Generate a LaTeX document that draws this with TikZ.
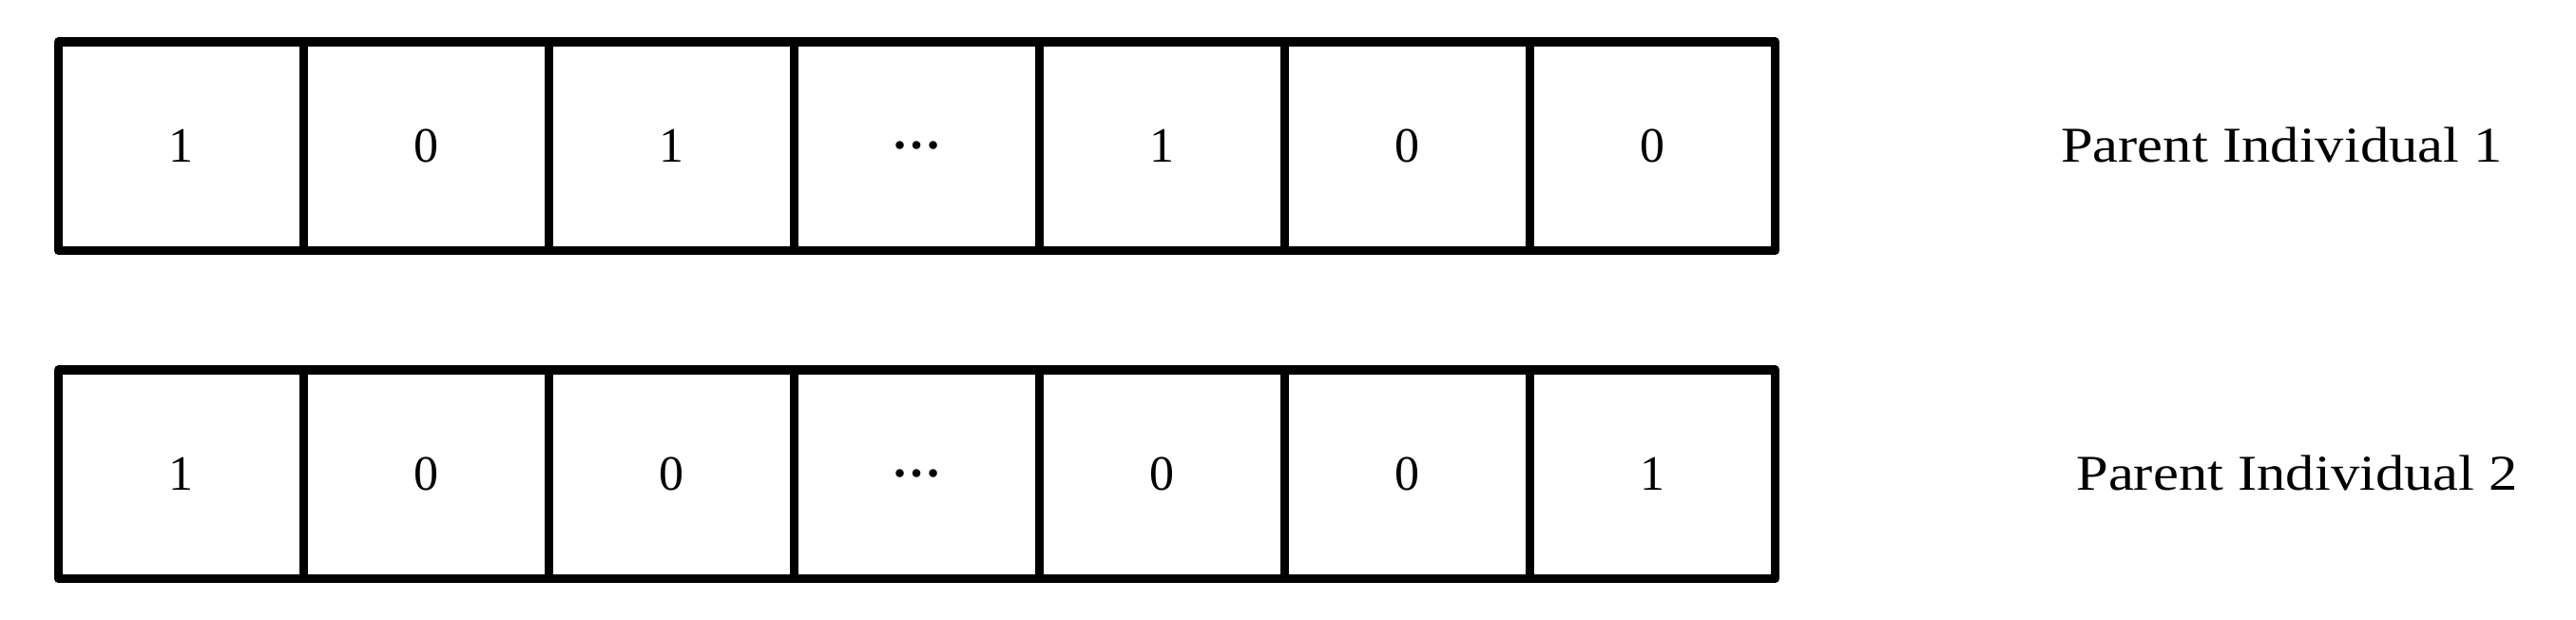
\documentclass[tikz,border=0pt]{standalone}
\usepackage{fontspec}
\setmainfont{Liberation Serif}
\usetikzlibrary{positioning}

\newcommand{\middots}{\raisebox{0.28em}[0.68em][0pt]{\bfseries …}}

\tikzset{
  gene/.style={draw, line width=2.7pt, outer sep=0pt, inner sep=0pt,
    minimum width=2.58cm, minimum height=2.195cm,
    font=\fontsize{14.8}{18}\selectfont},
  parent/.style={font=\fontsize{15}{18}\selectfont, xscale=1.15}
}

\begin{document}
\begin{tikzpicture}[line join=round]
  \useasboundingbox (0,0) rectangle (27.1,6.51);
  % first chromosome
  \foreach \bit [count=\i] in {1,0,1,\middots,1,0,0}
    \node[gene] (a\i) at ({0.615+(\i-0.5)*2.58},4.9725) {\bit};
  % second chromosome
  \foreach \bit [count=\i] in {1,0,0,\middots,0,0,1}
    \node[gene] (b\i) at ({0.615+(\i-0.5)*2.58},1.5225) {\bit};
  \node[parent] (pa) at (24.005,4.985) {Parent Individual 1};
  \node[parent] (pb) at (24.167,1.535) {Parent Individual 2};
\end{tikzpicture}
\end{document}
